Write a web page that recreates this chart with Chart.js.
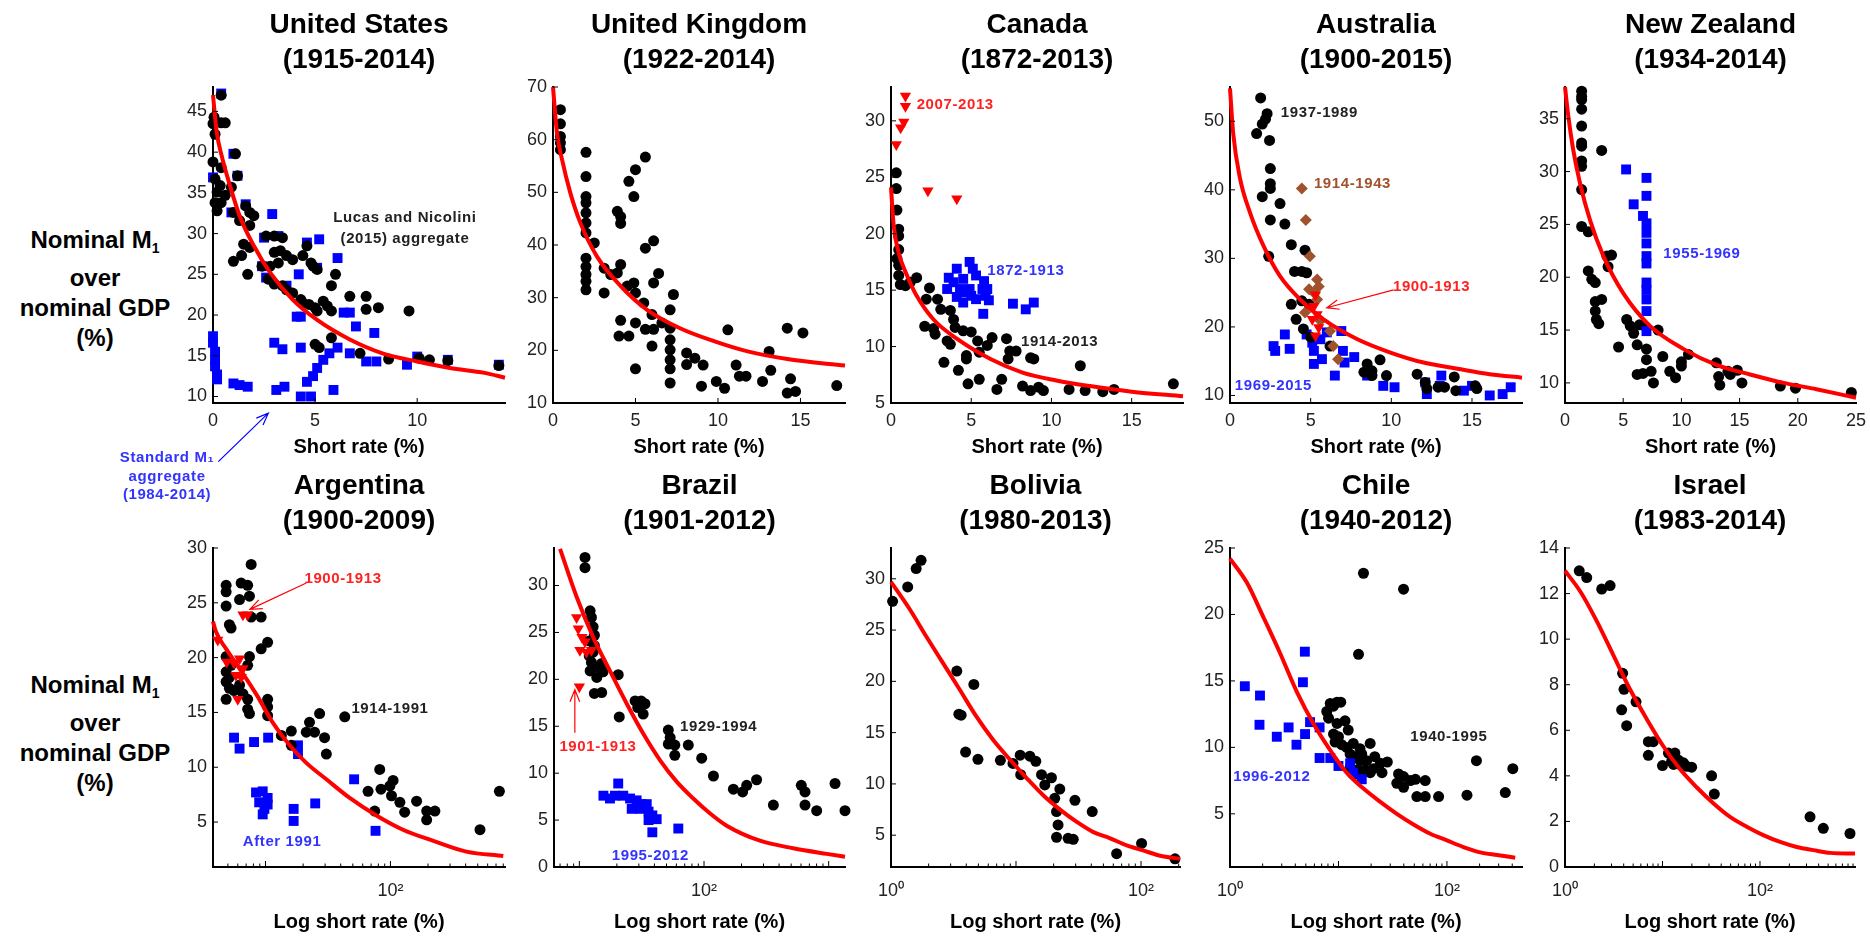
<!DOCTYPE html>
<html>
<head>
<meta charset="utf-8">
<script src="https://cdn.jsdelivr.net/npm/chart.js@4.4.1/dist/chart.umd.min.js"></script>
<style>
    html, body { margin: 0; padding: 0; background: #fff; width: 1870px; height: 936px; overflow: hidden; position: relative; }
    canvas { position: absolute; }
    .ylab { position: absolute; left: 0; width: 190px; text-align: center; font: bold 24px "Liberation Sans", Arial, sans-serif; line-height: 30px; color: #000; }
    .ylab sub { font-size: 14px; vertical-align: -5px; }
</style>
</head>
<body>
<div class="ylab" style="top:225px">Nominal M<sub>1</sub><br>over<br>nominal GDP<br>(%)</div>
<div class="ylab" style="top:670px">Nominal M<sub>1</sub><br>over<br>nominal GDP<br>(%)</div>
<script>
const FONT = '"Liberation Sans", Arial, sans-serif';

// ---- values, [short rate, M1/GDP] ----

// United States
const usCurve = [[0,47],[0.18,42.5],[0.42,39.6],[0.83,35.9],[1.3,32.2],[2.0,28.5],[2.8,25.2],[3.9,21.9],[5.1,19.4],[6.7,17.0],[8.3,15.3],[10.0,14.3],[11.6,13.5],[13.3,12.9],[14.3,12.3]];
const usAggregate = [[0.4,47.0],[0.05,44.3],[0.0,43.5],[0.4,43.6],[0.6,43.6],[0.1,42.2],[0.0,38.8],[0.4,38.1],[1.1,39.8],[1.2,37.1],[0.1,36.7],[0.35,35.9],[0.2,35.1],[0.9,35.7],[0.1,33.8],[0.2,32.8],[0.6,34.7],[0.4,33.8],[1.0,32.6],[1.6,33.4],[1.8,32.6],[2.0,32.2],[1.3,31.6],[1.8,31.0],[1.5,28.7],[1.8,28.3],[1.0,26.6],[1.4,27.3],[1.7,25.0],[2.4,26.0],[2.6,29.7],[3.0,29.7],[3.4,29.5],[3.0,27.7],[3.3,27.9],[3.6,27.3],[3.9,26.8],[4.4,27.3],[4.6,28.5],[2.8,26.0],[3.2,26.4],[2.7,24.4],[3.0,23.8],[3.4,23.6],[3.6,23.1],[3.9,22.7],[4.3,21.9],[4.4,21.5],[4.8,26.4],[4.9,26.0],[5.1,25.6],[4.7,21.3],[5.0,20.9],[5.1,20.5],[5.4,21.7],[5.6,21.1],[5.8,20.5],[6.0,25.0],[5.8,23.6],[6.7,22.3],[7.5,22.3],[7.5,20.7],[8.1,20.9],[9.6,20.5],[5.0,16.4],[5.2,16.0],[5.8,17.2],[7.2,15.3],[8.6,14.6],[10.1,14.7],[10.6,14.5],[11.5,14.4],[14.0,13.8]];
const usStandard = [[0.4,47.2],[1.0,39.8],[1.2,37.1],[0.0,36.9],[0.9,32.6],[1.6,33.6],[2.9,32.4],[2.5,29.5],[3.2,29.7],[5.2,29.3],[4.6,28.9],[6.1,27.0],[2.4,26.0],[2.6,24.6],[4.2,25.0],[5.1,25.8],[3.6,23.6],[4.1,19.8],[4.3,19.8],[6.4,20.3],[6.7,20.3],[7.0,18.6],[7.9,17.8],[0,17.4],[0,16.6],[0.1,15.5],[0.1,14.5],[0.1,13.7],[0.2,12.7],[0.2,12.1],[1.0,11.6],[1.3,11.4],[1.7,11.2],[3.0,16.6],[3.4,15.8],[3.1,10.8],[3.5,11.2],[4.3,16.0],[4.3,10.0],[4.8,10.0],[4.6,11.8],[4.9,12.5],[5.1,13.5],[5.4,14.5],[5.7,15.3],[6.1,16.0],[5.9,10.8],[6.7,15.3],[7.5,14.3],[8.0,14.3],[9.5,13.9],[10.0,14.9],[11.5,14.5],[14.0,13.9]];

// United Kingdom
const ukCurve = [[0,70],[0.24,61.3],[0.55,56.2],[1.05,49.9],[1.66,44.2],[2.67,37.8],[4.1,32.2],[5.7,27.7],[7.7,24.2],[9.8,21.7],[11.8,19.8],[14.3,18.3],[17.7,17.1]];
const ukData = [[0.45,65.7],[0.45,63.0],[0.45,60.6],[0.45,59.4],[0.45,58.1],[2.0,57.6],[2.0,53.0],[2.0,49.2],[2.0,48.0],[2.0,46.1],[2.0,44.2],[2.0,42.3],[2.5,40.4],[2.0,37.5],[2.0,35.9],[2.0,34.4],[2.0,33.1],[2.0,31.5],[3.1,35.6],[3.1,30.9],[3.5,34.4],[3.9,34.7],[3.9,46.4],[4.1,45.4],[4.1,44.1],[4.1,36.3],[4.6,52.1],[4.9,49.2],[5.0,54.3],[5.6,56.7],[4.5,32.2],[4.9,32.8],[5.0,30.9],[4.1,25.7],[4.0,22.7],[4.6,22.7],[5.0,25.2],[5.5,29.0],[5.6,39.4],[6.1,40.8],[6.1,32.8],[6.4,34.6],[6.0,26.8],[5.6,24.0],[6.1,24.0],[6.6,25.2],[6.0,20.8],[5.0,16.5],[7.1,27.7],[7.1,24.2],[7.1,22.0],[7.1,20.1],[7.1,18.2],[7.1,16.5],[7.1,13.8],[7.3,30.6],[8.1,19.5],[8.1,17.3],[8.6,18.5],[9.1,17.2],[9.0,13.2],[9.9,14.1],[10.4,12.8],[10.6,23.9],[11.1,17.2],[11.3,15.1],[11.7,15.1],[12.7,14.1],[13.1,19.8],[13.2,16.2],[14.2,24.2],[14.4,14.6],[14.2,11.9],[14.7,12.2],[15.15,23.3],[17.2,13.3]];

// Canada
const caCurve = [[0,24.1],[0.17,20.7],[0.48,18.3],[1.0,16.3],[1.6,14.5],[2.65,12.4],[4.1,10.7],[6.2,8.9],[8.2,7.7],[10.3,7.0],[12.4,6.5],[15.0,6.0],[18.2,5.6]];
const caRecent = [[0.9,32.2],[0.9,31.3],[0.8,29.9],[0.6,29.4],[0.33,27.9],[2.3,23.8],[4.1,23.1]];
const caLater = [[0.33,25.4],[0.33,24.0],[0.37,22.1],[0.48,20.4],[0.48,19.8],[0.48,18.6],[0.37,17.8],[0.48,17.2],[0.48,16.3],[0.58,15.5],[0.9,15.4],[1.6,16.1],[1.2,15.7],[2.4,15.2],[2.2,14.2],[2.9,14.2],[3.1,13.3],[3.7,13.2],[3.9,12.4],[2.1,11.8],[2.65,11.6],[2.75,11.1],[3.5,10.5],[3.7,10.2],[4.0,11.7],[4.5,11.4],[5.0,11.3],[4.7,9.2],[4.7,8.9],[5.4,10.5],[6.0,10.1],[6.3,10.8],[5.5,9.5],[7.2,10.7],[7.4,9.6],[7.8,9.6],[7.3,8.9],[8.7,9.0],[8.9,8.9],[3.3,8.6],[4.2,7.9],[4.8,6.7],[5.5,7.1],[6.6,6.2],[6.9,7.1],[8.2,6.5],[8.7,6.1],[9.2,6.4],[9.5,6.1],[11.1,6.2],[11.8,8.3],[12.1,6.1],[13.2,6.0],[13.9,6.2],[17.6,6.7]];
const caEarly = [[3.6,16.1],[4.1,16.9],[4.9,17.5],[5.1,16.9],[3.5,15.1],[3.9,15.7],[4.5,16.0],[5.3,16.3],[5.8,15.8],[4.3,15.1],[4.9,15.1],[5.7,15.1],[5.9,14.5],[6.0,15.1],[4.1,14.4],[4.5,13.9],[5.0,14.5],[5.3,14.2],[4.5,14.8],[5.75,12.9],[7.6,13.8],[8.4,13.3],[8.9,13.9],[6.1,14.1]];

// Australia
const auCurve = [[0,54.8],[0.2,48.2],[0.6,41.9],[1.25,36.6],[2.1,31.7],[3.1,27.4],[4.35,24.0],[5.8,21.1],[7.9,18.2],[9.9,16.3],[12.0,14.8],[14.1,13.9],[16.1,13.1],[18.1,12.6]];
const auEarly = [[5.3,24.7],[5.2,23.0],[5.4,21.8],[5.1,21.1],[5.5,19.9],[5.3,18.7]];
const auInterwar = [[4.45,40.2],[4.7,35.6],[4.95,30.3],[5.4,26.9],[5.5,25.9],[5.2,25.0],[4.9,25.5],[4.65,22.1],[5.4,24.0],[6.2,19.4],[6.4,17.2],[6.7,15.3],[5.6,20.9]];
const auMiddle = [[1.9,53.4],[2.3,51.1],[2.2,50.3],[2.0,49.6],[1.65,48.2],[2.45,47.2],[2.5,43.1],[2.5,40.9],[2.5,40.2],[2.0,39.0],[3.1,38.0],[2.5,35.6],[3.4,35.0],[3.8,32.0],[4.65,31.2],[2.4,30.3],[4.0,28.1],[4.45,28.1],[4.75,27.9],[3.8,23.3],[4.45,23.8],[4.9,23.3],[4.1,21.1],[4.55,19.7],[5.0,18.5],[6.2,17.2],[8.5,14.6],[8.8,13.6],[9.3,15.2],[9.7,12.9],[8.3,13.4],[8.8,12.9],[11.6,13.1],[12.1,11.9],[12.2,11.0],[12.9,11.2],[13.3,11.2],[14.0,10.7],[13.9,12.7],[15.2,11.4],[15.3,11.0]];
const auRecent = [[2.7,17.2],[2.8,16.5],[3.4,18.9],[3.7,16.8],[4.75,18.9],[5.1,17.7],[5.2,16.5],[5.2,14.6],[5.7,15.3],[5.6,18.2],[6.0,19.2],[6.9,19.4],[7.0,16.5],[7.1,14.8],[7.7,15.6],[6.5,12.9],[8.5,12.9],[9.5,11.4],[10.2,11.2],[12.1,11.9],[12.2,10.2],[13.1,12.9],[13.0,11.4],[14.5,10.7],[15.0,11.4],[16.1,10.0],[16.9,10.2],[17.4,11.2]];

// New Zealand
const nzCurve = [[0,38.0],[0.29,35.2],[0.7,32.1],[1.29,28.9],[2.15,25.4],[3.3,22.0],[5.0,18.5],[7.3,15.4],[10.2,13.2],[13.0,11.7],[15.9,10.8],[18.8,10.0],[21.6,9.4],[25.0,8.6]];
const nzData = [[1.43,37.6],[1.43,37.1],[1.43,36.8],[1.43,35.9],[1.43,34.3],[1.43,32.7],[1.43,32.4],[1.43,31.0],[1.43,30.5],[1.43,28.3],[3.15,32.0],[1.43,24.8],[2.0,24.3],[2.0,20.6],[2.3,19.8],[2.6,19.5],[2.6,17.7],[3.15,17.9],[2.6,16.8],[2.7,16.0],[2.9,15.6],[3.6,22.0],[4.0,22.1],[3.7,21.0],[4.6,13.4],[5.3,16.0],[5.6,15.4],[5.9,14.7],[6.2,13.6],[6.4,15.5],[7.0,15.2],[6.2,10.8],[6.7,10.9],[7.4,11.1],[7.6,10.0],[7.0,13.2],[7.0,12.2],[8.0,15.0],[8.4,12.5],[9.0,11.1],[9.5,10.5],[10.0,11.6],[10.0,12.0],[10.6,12.7],[13.0,11.9],[13.2,10.6],[13.3,9.8],[14.2,10.8],[14.0,11.1],[14.8,11.2],[15.2,10.0],[18.5,9.7],[19.8,9.5],[24.6,9.1]];
const nzSixties = [[5.25,30.2],[5.9,26.9],[7.0,29.4],[7.0,27.7],[6.7,25.8],[7.0,25.1],[7.0,24.2],[7.0,23.2],[7.0,22.0],[7.0,21.3],[7.0,19.5],[7.0,18.8],[7.0,17.9],[7.0,16.8],[7.0,14.9]];

// Argentina
const arCurve = [[3.8,23.3],[4.0,22.4],[4.84,20.8],[6.2,19.0],[8.5,16.6],[11.4,14.1],[15.6,12.0],[21.2,10.4],[30.7,8.9],[47.2,7.2],[77.2,5.6],[126,4.3],[218,3.3],[405,2.3],[800,1.9]];
const arEarly = [[6.6,23.9],[7.2,23.9],[4.15,21.6],[4.9,19.6],[5.6,19.5],[6.2,19.9],[6.6,19.0],[5.8,18.4],[6.4,18.2],[6.0,16.2]];
const arMiddle = [[4.84,26.6],[4.84,26.0],[4.84,24.7],[5.14,23.0],[5.3,22.7],[6.38,26.8],[7.2,26.6],[7.68,28.5],[7.44,25.6],[6.2,25.3],[7.68,23.7],[9.23,23.7],[10.4,21.4],[9.23,20.8],[4.84,20.1],[5.3,19.3],[4.84,18.7],[5.14,18.2],[7.44,20.1],[7.2,19.3],[4.84,17.8],[5.14,17.2],[4.84,16.2],[5.6,17.0],[6.2,17.5],[6.6,16.7],[7.2,16.2],[7.2,15.3],[7.44,14.9],[10.4,16.2],[10.4,15.5],[10.4,14.7],[13.4,12.9],[16.1,13.3],[16.1,12.0],[21.2,13.2],[22.5,14.1],[24.7,13.2],[27.1,14.9],[29.7,12.7],[30.7,11.2],[43.1,14.6],[66.2,7.8],[74.9,6.0],[82.1,9.8],[84,8.0],[105,8.8],[99,8.3],[102,7.4],[119,6.8],[130,5.9],[162,6.9],[195,6.0],[227,6.0],[195,5.2],[521,4.3],[745,7.8]];
const arRecent = [[5.6,12.7],[6.2,11.7],[8.1,12.3],[10.5,12.7],[18.2,12.0],[18.2,11.2],[8.4,7.7],[9.5,7.8],[10.4,7.2],[8.9,6.8],[9.8,6.2],[10.4,6.6],[9.5,5.7],[16.8,6.2],[16.8,5.1],[25,6.7],[51.2,8.9],[76,4.2]];

// Brazil
const brCurve = [[7.0,33.9],[9.5,28.8],[12.9,24.5],[17.6,20.9],[24.0,17.4],[32.6,14.2],[44.3,11.4],[60.3,9.1],[82,7.3],[112,5.7],[152,4.4],[281,2.8],[520,2.0],[965,1.4],[1352,1.1]];
const brEarly = [[9.5,26.6],[9.8,25.4],[10.5,24.5],[11.1,24.0],[10.1,23.1],[11.4,22.9],[12.5,23.1],[10.0,19.2]];
const brMiddle = [[11.1,33.0],[11.1,31.9],[12.2,27.3],[12.5,26.6],[12.9,25.6],[13.2,24.7],[12.0,24.1],[13.2,23.6],[12.9,22.9],[12.0,22.5],[12.5,21.8],[12.2,20.9],[13.8,21.3],[15.1,21.7],[15.5,20.8],[13.8,20.2],[20.5,20.5],[13.2,18.5],[15.1,18.6],[28.0,17.7],[31.3,17.7],[33.6,17.4],[29.4,17.0],[32.5,16.3],[20.9,16.0],[51.7,14.6],[53.5,13.8],[51.7,13.1],[58.3,13.0],[58.3,11.9],[74.8,13.0],[95.8,11.6],[119,9.7],[172,8.3],[204,8.0],[220,8.7],[264,9.3],[360,6.6],[603,8.7],[646,8.0],[646,6.6],[801,6.0],[1125,8.9],[1352,6.0]];
const brRecent = [[20.5,8.9],[15.6,7.6],[17.6,7.3],[19.3,7.6],[22.5,7.6],[25.5,7.3],[28.8,7.1],[31.6,6.7],[34.7,6.7],[26.3,6.2],[30.7,6.2],[35.9,5.9],[38.5,5.5],[41.7,5.1],[35.9,5.0],[38.5,3.7],[62.2,4.1]];

// Bolivia
const boCurve = [[1,29.7],[1.4,27.1],[1.91,24.4],[2.6,21.8],[3.54,19.2],[4.8,16.6],[6.55,14.3],[8.9,12.4],[12.1,10.6],[16.5,8.9],[22.5,7.5],[30.6,6.3],[41.6,5.3],[56.6,4.7],[76.9,4.0],[105,3.5],[142,3.0],[205,2.7]];
const boData = [[1.03,27.8],[1.36,29.2],[1.59,31.0],[1.74,31.8],[3.36,21.0],[4.6,19.7],[3.49,16.8],[3.64,16.7],[3.95,13.1],[4.96,12.4],[7.5,12.3],[9.46,12.0],[10.8,12.8],[12.9,12.7],[14.4,12.2],[10.9,10.9],[16.0,10.9],[19.2,10.6],[17.0,9.9],[20.4,8.6],[22.4,9.5],[21.1,7.3],[21.7,6.0],[21.1,4.8],[26.1,4.7],[28.7,4.6],[29.6,8.4],[40.7,7.3],[63.8,3.2],[101,4.2],[187,2.7]];

// Chile
const clCurve = [[1,24.2],[1.43,22.4],[2.03,19.8],[2.89,17.1],[4.12,14.2],[5.87,11.8],[8.38,9.8],[11.9,8.1],[17.0,6.9],[24.3,5.9],[34.5,5.0],[49.2,4.2],[70.2,3.5],[100,3.0],[142,2.5],[203,2.1],[290,1.9],[426,1.7]];
const clEarly = [[17.0,23.1],[39.8,21.9],[15.3,17.0],[8.4,13.3],[9.7,13.4],[10.5,13.4],[7.8,12.7],[9.0,13.1],[8.1,12.2],[11.5,12.0],[9.7,11.8],[12.3,11.3],[9.0,11.0],[10.0,10.8],[9.3,10.4],[10.7,10.2],[11.9,10.0],[13.7,10.3],[15.8,9.9],[19.6,10.3],[12.8,9.5],[14.2,9.3],[16.4,9.5],[15.8,9.0],[18.2,9.0],[21.6,9.3],[12.8,8.5],[14.8,8.3],[17.6,8.3],[21.0,8.4],[24.3,8.8],[28.2,8.9],[25.2,8.1],[19.6,8.1],[14.8,8.0],[35.8,8.0],[39.8,7.8],[45.9,7.5],[51.2,7.6],[34.5,7.3],[39.8,7.0],[63.1,7.5],[52.8,6.3],[63.1,6.3],[83.8,6.3],[153,6.4],[187,9.0],[345,6.6],[405,8.4]];
const clRecent = [[1.37,14.6],[1.89,13.9],[1.87,11.7],[2.7,10.8],[3.47,11.5],[4.1,10.2],[4.9,17.2],[4.7,14.9],[4.92,11.0],[5.47,11.9],[6.7,11.5],[6.7,9.2],[8.4,9.2],[10.0,8.6],[12.8,8.8],[13.7,8.1],[16.4,7.6]];

// Israel
const ilCurve = [[1,13.0],[1.43,12.1],[2.11,10.8],[3.13,9.3],[4.64,7.8],[6.88,6.5],[10.2,5.3],[15.1,4.3],[22.4,3.5],[33.2,2.8],[49.3,2.2],[73.1,1.77],[108,1.40],[161,1.10],[238,0.88],[353,0.74],[524,0.62],[943,0.59]];
const ilData = [[1.40,13.0],[1.67,12.7],[2.38,12.2],[2.90,12.35],[3.90,8.5],[4.03,7.8],[3.81,6.9],[4.29,6.2],[5.35,7.25],[7.16,5.5],[8.05,5.5],[7.16,4.9],[10.0,4.45],[11.5,5.0],[13.4,5.0],[12.4,4.64],[14.5,4.7],[16.4,4.57],[17.7,4.42],[19.9,4.38],[13.0,4.5],[15.1,4.5],[31.9,4.0],[34.0,3.2],[326,2.2],[446,1.7],[838,1.47]];

// ---- styles ----
const RED = '#ff0000', BLUE = '#0000ff', BLACK = '#000000', BROWN = '#a0522d';
const pts = a => a.map(([x, y]) => ({ x, y }));
const curve = a => ({ data: pts(a), showLine: true, borderColor: RED, borderWidth: 4, pointRadius: 0, cubicInterpolationMode: 'monotone', clip: false });
const marks = (a, style, color, r, rot = 0) => ({ data: pts(a), showLine: false, pointStyle: style, pointRadius: r, pointRotation: rot, pointBackgroundColor: color, pointBorderColor: color, pointBorderWidth: 0, clip: false });
const circles = a => marks(a, 'circle', BLACK, 5.5);
const squares = a => marks(a, 'rect', BLUE, 7);
const triangles = a => marks(a, 'triangle', RED, 6.5, 180);
const diamonds = a => marks(a, 'rectRot', BROWN, 6);

const LBL = { black: '#222222', red: '#ff2222', blue: '#3333ff', brown: '#a0522d' };

// box = [plot left, plot top, plot width, plot height] in page pixels
const panels = [
    { box: [213, 87, 292, 316], title: ['United States', '(1915-2014)'], log: false,
      x: [0, 14.3, 5], y: [9.2, 48, 5],
      series: [curve(usCurve), circles(usAggregate), squares(usStandard)],
      notes: [['Lucas and Nicolini', 9.4, 31.9, LBL.black, 'center'], ['(2015) aggregate', 9.4, 29.3, LBL.black, 'center'],
              ['Standard M\u2081', -2.25, 2.44, LBL.blue, 'center'], ['aggregate', -2.25, 0.1, LBL.blue, 'center'], ['(1984-2014)', -2.25, -2.1, LBL.blue, 'center']],
      arrows: [[0.26, 2.0, 2.71, 7.95, BLUE]] },
    { box: [553, 87, 292, 316], title: ['United Kingdom', '(1922-2014)'], log: false,
      x: [0, 17.7, 5], y: [10, 70, 10],
      series: [curve(ukCurve), circles(ukData)], notes: [], arrows: [] },
    { box: [891, 87, 292, 316], title: ['Canada', '(1872-2013)'], log: false,
      x: [0, 18.2, 5], y: [5, 33, 5],
      series: [curve(caCurve), triangles(caRecent), squares(caEarly), circles(caLater)],
      notes: [['2007-2013', 1.6, 31.4, LBL.red], ['1872-1913', 6.0, 16.7, LBL.blue], ['1914-2013', 8.1, 10.4, LBL.black]], arrows: [] },
    { box: [1230, 87, 292, 316], title: ['Australia', '(1900-2015)'], log: false,
      x: [0, 18.1, 5], y: [8.9, 55, 10],
      series: [curve(auCurve), triangles(auEarly), diamonds(auInterwar), circles(auMiddle), squares(auRecent)],
      notes: [['1937-1989', 3.15, 51.3, LBL.black], ['1914-1943', 5.2, 40.9, LBL.brown], ['1900-1913', 10.1, 25.9, LBL.red], ['1969-2015', 0.3, 11.4, LBL.blue]],
      arrows: [[10.14, 25.4, 6.0, 22.8, RED]] },
    { box: [1565, 87, 291, 316], title: ['New Zealand', '(1934-2014)'], log: false,
      x: [0, 25, 5], y: [8.1, 38, 5],
      series: [curve(nzCurve), squares(nzSixties), circles(nzData)],
      notes: [['1955-1969', 8.45, 22.2, LBL.blue]], arrows: [] },
    { box: [213, 548, 292, 319], title: ['Argentina', '(1900-2009)'], log: true,
      x: [3.8, 826], y: [0.9, 30, 5],
      series: [curve(arCurve), triangles(arEarly), circles(arMiddle), squares(arRecent)],
      notes: [['1900-1913', 20.5, 27.2, LBL.red], ['1914-1991', 48.7, 15.3, LBL.black], ['After 1991', 6.58, 3.17, LBL.blue]],
      arrows: [[21.2, 26.8, 7.5, 24.4, RED]] },
    { box: [554, 548, 291, 319], title: ['Brazil', '(1901-2012)'], log: true,
      x: [6.26, 1352], y: [0, 34, 5],
      series: [curve(brCurve), triangles(brEarly), circles(brMiddle), squares(brRecent)],
      notes: [['1901-1913', 14.1, 12.8, LBL.red, 'center'], ['1929-1994', 64.2, 14.9, LBL.black], ['1995-2012', 18.2, 1.2, LBL.blue]],
      arrows: [[9.2, 14.3, 9.2, 18.9, RED]] },
    { box: [891, 548, 289, 319], title: ['Bolivia', '(1980-2013)'], log: true,
      x: [1, 205], y: [1.9, 33, 5],
      series: [curve(boCurve), circles(boData)], notes: [], arrows: [] },
    { box: [1230, 548, 292, 319], title: ['Chile', '(1940-2012)'], log: true,
      x: [1, 492], y: [1, 25, 5],
      series: [curve(clCurve), squares(clRecent), circles(clEarly)],
      notes: [['1940-1995', 45.9, 10.8, LBL.black], ['1996-2012', 1.07, 7.8, LBL.blue]], arrows: [] },
    { box: [1565, 548, 290, 319], title: ['Israel', '(1983-2014)'], log: true,
      x: [1, 943], y: [0, 14, 2],
      series: [curve(ilCurve), circles(ilData)], notes: [], arrows: [] }
];

// margins of each canvas around its plot box
const M = { l: 125, t: 95, r: 40, b: 105 };
const XH = 40;

function drawArrow(ctx, x1, y1, x2, y2, color) {
    const ang = Math.atan2(y2 - y1, x2 - x1), hl = 13, sp = 0.38;
    ctx.strokeStyle = color;
    ctx.lineWidth = 1.2;
    ctx.beginPath();
    ctx.moveTo(x1, y1);
    ctx.lineTo(x2, y2);
    ctx.moveTo(x2 - hl * Math.cos(ang - sp), y2 - hl * Math.sin(ang - sp));
    ctx.lineTo(x2, y2);
    ctx.lineTo(x2 - hl * Math.cos(ang + sp), y2 - hl * Math.sin(ang + sp));
    ctx.stroke();
}

function makeDecor(p) {
    return {
        id: 'decor',
        afterDatasetsDraw(chart) {
            const { ctx, chartArea: a, scales: { x, y } } = chart;
            ctx.save();

            // inward tick marks
            ctx.strokeStyle = '#000';
            ctx.lineWidth = 1;
            x.ticks.forEach(t => {
                const v = t.value;
                let len = 5;
                if (p.log) {
                    const e = Math.floor(Math.log10(v) + 1e-9), s = v / Math.pow(10, e);
                    if (Math.abs(s - Math.round(s)) > 1e-6) return;
                    len = Math.abs(s - 1) < 1e-6 ? 6 : 3.5;
                }
                const px = x.getPixelForValue(v);
                if (px < a.left + 2 || px > a.right - 1) return;
                ctx.beginPath(); ctx.moveTo(px, a.bottom); ctx.lineTo(px, a.bottom - len); ctx.stroke();
            });
            y.ticks.forEach(t => {
                const py = y.getPixelForValue(t.value);
                if (py > a.bottom - 2 || py < a.top) return;
                ctx.beginPath(); ctx.moveTo(a.left, py); ctx.lineTo(a.left + 5, py); ctx.stroke();
            });

            // titles
            const cx = (a.left + a.right) / 2;
            ctx.fillStyle = '#000';
            ctx.textAlign = 'center';
            ctx.textBaseline = 'middle';
            ctx.font = 'bold 28px ' + FONT;
            ctx.fillText(p.title[0], cx, a.top - 62);
            ctx.fillText(p.title[1], cx, a.top - 27);
            ctx.font = 'bold 20px ' + FONT;
            ctx.fillText(p.log ? 'Log short rate (%)' : 'Short rate (%)', cx, a.bottom + (p.log ? 55 : 44));

            // period labels
            ctx.font = 'bold 15px ' + FONT;
            if ('letterSpacing' in ctx) ctx.letterSpacing = '0.6px';
            p.notes.forEach(([text, nx, ny, color, align]) => {
                ctx.fillStyle = color;
                ctx.textAlign = align || 'left';
                ctx.fillText(text, x.getPixelForValue(nx), y.getPixelForValue(ny));
            });
            p.arrows.forEach(([x1, y1, x2, y2, color]) => {
                drawArrow(ctx, x.getPixelForValue(x1), y.getPixelForValue(y1), x.getPixelForValue(x2), y.getPixelForValue(y2), color);
            });
            ctx.restore();
        }
    };
}

const tickFont = { family: FONT, size: 18 };

panels.forEach(p => {
    const [left, top, w, h] = p.box;
    const cv = document.createElement('canvas');
    cv.width = w + M.l + M.r;
    cv.height = h + M.t + M.b;
    cv.style.left = (left - M.l) + 'px';
    cv.style.top = (top - M.t) + 'px';
    document.body.appendChild(cv);

    const xScale = p.log ? {
        type: 'logarithmic', min: p.x[0], max: p.x[1],
        ticks: {
            autoSkip: false, maxRotation: 0, padding: 13, color: '#222', font: tickFont,
            callback: v => Math.abs(v - 1) < 1e-9 ? '10\u2070' : Math.abs(v - 100) < 1e-9 ? '10\u00b2' : ''
        }
    } : {
        type: 'linear', min: p.x[0], max: p.x[1],
        ticks: { stepSize: p.x[2], includeBounds: false, autoSkip: false, maxRotation: 0, padding: 7, color: '#222', font: tickFont }
    };
    Object.assign(xScale, {
        position: 'bottom',
        grid: { display: false, drawTicks: false },
        border: { display: true, color: '#000', width: 2 },
        afterFit: s => { s.height = XH; }
    });

    new Chart(cv, {
        type: 'scatter',
        data: { datasets: p.series },
        options: {
            responsive: false,
            animation: false,
            devicePixelRatio: 1,
            layout: { padding: { left: 0, top: M.t, right: M.r, bottom: M.b - XH } },
            plugins: { legend: { display: false }, tooltip: { enabled: false } },
            scales: {
                x: xScale,
                y: {
                    type: 'linear', min: p.y[0], max: p.y[1],
                    ticks: { stepSize: p.y[2], includeBounds: false, padding: 6, color: '#222', font: tickFont },
                    grid: { display: false, drawTicks: false },
                    border: { display: true, color: '#000', width: 2 },
                    afterFit: s => { s.width = M.l; }
                }
            }
        },
        plugins: [makeDecor(p)]
    });
});
</script>
</body>
</html>
